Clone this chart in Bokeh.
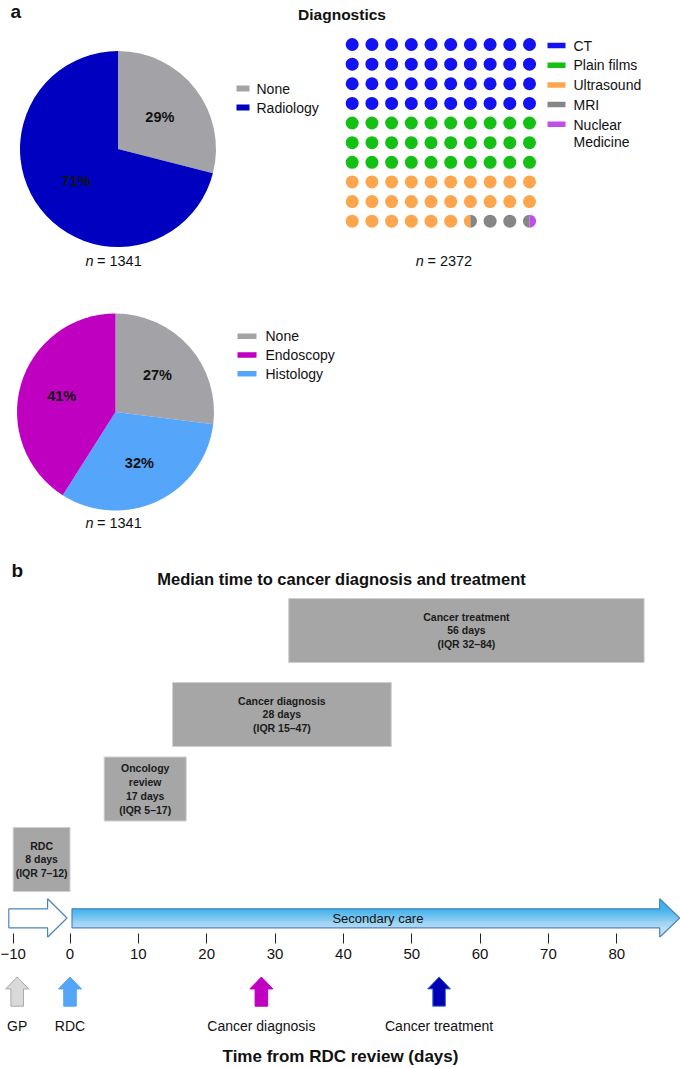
import math
from bokeh.plotting import figure
from bokeh.layouts import column
from bokeh.models import Range1d, FixedTicker
from bokeh.core.properties import value
from bokeh.embed import file_html
from bokeh.resources import INLINE

# ------------------------------------------------------------------ data
PIE1_CATS = ["None", "Radiology"]
PIE1_PCT = [29, 71]
PIE1_N = "1341"

PIE2_CATS = ["None", "Endoscopy", "Histology"]          # legend order
PIE2_PCT = [27, 41, 32]
PIE2_DRAW_ORDER = ["None", "Histology", "Endoscopy"]    # clockwise from top
PIE2_N = "1341"

WAFFLE_CATS = ["CT", "Plain films", "Ultrasound", "MRI", "Nuclear\nMedicine"]
WAFFLE_PCT = [40, 30, 26.5, 3, 0.5]
WAFFLE_N = "2372"

STAGES = ["RDC", "Oncology\nreview", "Cancer diagnosis", "Cancer treatment"]
STAGE_MEDIAN_DAYS = [8, 17, 28, 56]
STAGE_IQR_LOW = [7, 5, 15, 32]
STAGE_IQR_HIGH = [12, 17, 47, 84]
STAGE_BOX_START = [-10, 5, 15, 32]
STAGE_BOX_END = [0, 17, 47, 84]

TICK_DAYS = [-10, 0, 10, 20, 30, 40, 50, 60, 70, 80]
TICK_LABELS = ["\u221210", "0", "10", "20", "30", "40", "50", "60", "70", "80"]

EVENTS = ["GP", "RDC", "Cancer diagnosis", "Cancer treatment"]
EVENT_DAY = [-9.3, 0, 28, 54]

# ------------------------------------------------------------------ styles
FONT = value("Liberation Sans")
TXT = "#111111"
PIE1_COLORS = {"None": "#a3a3a7", "Radiology": "#0000c0"}
PIE2_COLORS = {"None": "#a3a3a7", "Endoscopy": "#c000c0", "Histology": "#55a5fa"}
WAFFLE_COLORS = ["#1212f2", "#14c014", "#fda64d", "#868686", "#c04ee8"]
BOX_FILL, BOX_LINE = "#a6a6a6", "#cfcfcf"
EVENT_FILL = ["#d9d9d9", "#55a5f8", "#c000c0", "#0000b4"]
EVENT_LINE = ["#a9a9a9", "#55a5f8", "#c000c0", "#3a6fd8"]
ARROW_LINE = "#4a84c0"
GRAD_TOP, GRAD_BOT = (64, 178, 236), (188, 221, 244)

W = 680


def base_fig(height, x_range, y_range, **kw):
    p = figure(width=W, height=height, x_range=x_range, y_range=y_range,
               toolbar_location=None, output_backend="svg",
               outline_line_color=None, background_fill_color="white",
               border_fill_color="white", **kw)
    p.grid.visible = False
    return p


# ================================================================== panel a
A_TOP, A_H = 0, 540


def ya(py):
    return A_TOP + A_H - py


pa = base_fig(A_H, Range1d(0, W), Range1d(0, A_H),
              x_axis_location=None, y_axis_location=None, min_border=0)

pa.text(x=[10], y=[ya(11)], text=["a"], text_font=FONT, text_font_size="19px",
        text_font_style="bold", text_align="left", text_baseline="alphabetic", text_color=TXT)
pa.text(x=[341.5], y=[ya(13.5)], text=["Diagnostics"], text_font=FONT, text_font_size="15.5px",
        text_font_style="bold", text_align="center", text_baseline="middle", text_color=TXT)


def draw_pie(p, cx, cy, r, cats, pcts, colors, label_r):
    total = float(sum(pcts))
    starts, ends, fills, lx, ly, lt = [], [], [], [], [], []
    cum = 0.0
    for c, v in zip(cats, pcts):
        a0 = math.pi / 2 - 2 * math.pi * cum / total
        a1 = math.pi / 2 - 2 * math.pi * (cum + v) / total
        cum += v
        starts.append(a0)
        ends.append(a1)
        fills.append(colors[c])
        m = (a0 + a1) / 2
        lx.append(cx + label_r * math.cos(m))
        ly.append(cy + label_r * math.sin(m))
        lt.append(f"{v}%")
    n = len(cats)
    p.wedge(x=[cx] * n, y=[cy] * n, radius=r, radius_units="screen",
            start_angle=starts, end_angle=ends, direction="clock",
            fill_color=fills, line_color=None)
    p.text(x=lx, y=ly, text=lt, text_font=FONT, text_font_size="14.5px",
           text_font_style="bold", text_align="center", text_baseline="middle", text_color=TXT)


def draw_legend(p, rect_cx, text_x, ys_page, labels, colors, w, h, line_px=18):
    n = len(labels)
    p.rect(x=[rect_cx] * n, y=[ya(v) for v in ys_page], width=w, height=h,
           width_units="screen", height_units="screen", fill_color=colors, line_color=None)
    ty = [ya(v + lab.count("\n") * line_px / 2) for v, lab in zip(ys_page, labels)]
    p.text(x=[text_x] * n, y=ty, text=labels, text_font=FONT, text_font_size="14px",
           text_align="left", text_baseline="middle", text_line_height=1.06,
           text_color=TXT)


def n_label(p, cx, py, n):
    p.text(x=[cx - 20.8], y=[ya(py)], text=["n"], text_font=FONT, text_font_size="14.5px",
           text_font_style="italic", text_align="right", text_baseline="middle", text_color=TXT)
    p.text(x=[cx - 17.3], y=[ya(py)], text=[f"= {n}"], text_font=FONT, text_font_size="14.5px",
           text_align="left", text_baseline="middle", text_color=TXT)


# pie 1
draw_pie(pa, 117.5, ya(148.5), 98, PIE1_CATS, PIE1_PCT, PIE1_COLORS, 53)
draw_legend(pa, 242.5, 256, [88, 107], PIE1_CATS, [PIE1_COLORS[c] for c in PIE1_CATS], 13, 6)
n_label(pa, 113.8, 260, PIE1_N)

# pie 2
pie2_pct = [PIE2_PCT[PIE2_CATS.index(c)] for c in PIE2_DRAW_ORDER]
draw_pie(pa, 115, ya(411.5), 98.5, PIE2_DRAW_ORDER, pie2_pct, PIE2_COLORS, 56)
draw_legend(pa, 246.5, 265, [335.7, 354.4, 373.2], PIE2_CATS,
            [PIE2_COLORS[c] for c in PIE2_CATS], 19, 5.5)
n_label(pa, 113.8, 522.7, PIE2_N)

# waffle
W_X0, W_DX, W_Y0, W_DY, W_R = 351.7, 19.7, 44.0, 19.63, 6.5
full_x, full_y, full_c = [], [], []
part_x, part_y, part_s, part_e, part_c = [], [], [], [], []
n_dots = 100
for i in range(n_dots):
    row, col = divmod(i, 10)
    x = W_X0 + col * W_DX
    y = ya(W_Y0 + row * W_DY)
    parts = []
    lo = 0.0
    for k, v in enumerate(WAFFLE_PCT):
        hi = lo + v
        ov = min(hi, i + 1) - max(lo, i)
        if ov > 1e-9:
            parts.append((k, ov))
        lo = hi
    if len(parts) == 1:
        full_x.append(x)
        full_y.append(y)
        full_c.append(WAFFLE_COLORS[parts[0][0]])
    else:
        a = math.pi / 2
        for k, ov in parts:
            part_x.append(x)
            part_y.append(y)
            part_s.append(a)
            a += ov * 2 * math.pi
            part_e.append(a)
            part_c.append(WAFFLE_COLORS[k])

pa.scatter(x=full_x, y=full_y, size=2 * W_R, marker="circle", fill_color=full_c, line_color=None)
pa.wedge(x=part_x, y=part_y, radius=W_R, radius_units="screen", start_angle=part_s,
         end_angle=part_e, direction="anticlock", fill_color=part_c, line_color=None)
draw_legend(pa, 556, 573, [45 + 19.7 * k for k in range(len(WAFFLE_CATS))], WAFFLE_CATS,
            WAFFLE_COLORS, 18, 5.5)
n_label(pa, 444.2, 260, WAFFLE_N)

# ================================================================== panel b
PX0, PX_PER_DAY = 69.5, 6.835          # page x of day 0, px per day
X_START = -PX0 / PX_PER_DAY
X_END = (W - PX0) / PX_PER_DAY
S = W / (X_END - X_START)              # px per day
NEG = 0.831                            # compressed scale before RDC review


def tx(d):
    return d if d >= 0 else d * NEG


def px_to_x(page_x):
    return X_START + page_x / S


xr = Range1d(X_START, X_END)

B1_TOP, B1_H, B1_FRAME = 540, 427, 397


def yb1(py):
    return B1_TOP + B1_FRAME - py


pb1 = base_fig(B1_H, xr, Range1d(0, B1_FRAME), y_axis_location=None,
               min_border_left=0, min_border_right=0, min_border_top=0,
               min_border_bottom=B1_H - B1_FRAME)

ax = pb1.xaxis[0]
tick_pos = [tx(t) for t in TICK_DAYS]
ax.ticker = FixedTicker(ticks=tick_pos)
ax.major_label_overrides = {p_: lab for p_, lab in zip(tick_pos, TICK_LABELS)}
ax.axis_line_color = None
ax.major_tick_line_color = "#222222"
ax.major_tick_in = 4
ax.major_tick_out = 6
ax.minor_tick_line_color = None
ax.major_label_standoff = 5
ax.major_label_text_font = "Liberation Sans"
ax.major_label_text_font_size = "15px"
ax.major_label_text_color = TXT

pb1.text(x=[px_to_x(11)], y=[yb1(570)], text=["b"], text_font=FONT, text_font_size="19px",
         text_font_style="bold", text_align="left", text_baseline="alphabetic", text_color=TXT)
pb1.text(x=[px_to_x(341)], y=[yb1(578)], text=["Median time to cancer diagnosis and treatment"],
         text_font=FONT, text_font_size="16.5px", text_font_style="bold", text_align="center",
         text_baseline="middle", text_color=TXT)

# stage boxes
ROW_CENTER_PAGE = [859, 788.5, 714, 630]
BOX_H = 64
bl = [tx(v) for v in STAGE_BOX_START]
br = [tx(v) for v in STAGE_BOX_END]
bc = [yb1(v) for v in ROW_CENTER_PAGE]
pb1.quad(left=bl, right=br, bottom=[c - BOX_H / 2 for c in bc], top=[c + BOX_H / 2 for c in bc],
         fill_color=BOX_FILL, line_color=BOX_LINE, line_width=1)
box_txt = [f"{s}\n{m} days\n(IQR {lo}\u2013{hi})" for s, m, lo, hi in
           zip(STAGES, STAGE_MEDIAN_DAYS, STAGE_IQR_LOW, STAGE_IQR_HIGH)]
pb1.text(x=[(a + b) / 2 for a, b in zip(bl, br)], y=bc, text=box_txt, text_font=FONT,
         text_font_size="10.5px", text_font_style="bold", text_align="center",
         text_baseline="middle", text_line_height=1.16, text_color="#1a1a1a")

# care-pathway arrows
BODY_TOP, BODY_BOT, HEAD_TOP, HEAD_BOT = 908.3, 927.3, 898.3, 936.7
MID = (HEAD_TOP + HEAD_BOT) / 2


def block_arrow(x0, x_tip, head_px):
    xh = x_tip - head_px / S
    xs = [x0, xh, xh, x_tip, xh, xh, x0]
    ys = [yb1(BODY_BOT), yb1(BODY_BOT), yb1(HEAD_BOT), yb1(MID), yb1(HEAD_TOP),
          yb1(BODY_TOP), yb1(BODY_TOP)]
    return xs, ys


def clip_band(xs, ys, ylo, yhi):
    pts = list(zip(xs, ys))

    def clip(pts, inside, yc):
        out = []
        for i in range(len(pts)):
            cur, prev = pts[i], pts[i - 1]
            if inside(cur):
                if not inside(prev):
                    t = (yc - prev[1]) / (cur[1] - prev[1])
                    out.append((prev[0] + t * (cur[0] - prev[0]), yc))
                out.append(cur)
            elif inside(prev):
                t = (yc - prev[1]) / (cur[1] - prev[1])
                out.append((prev[0] + t * (cur[0] - prev[0]), yc))
        return out

    pts = clip(pts, lambda q: q[1] >= ylo, ylo)
    if pts:
        pts = clip(pts, lambda q: q[1] <= yhi, yhi)
    return [q[0] for q in pts], [q[1] for q in pts]


def lerp_hex(c0, c1, t):
    return "#%02x%02x%02x" % tuple(int(round(a + (b - a) * t)) for a, b in zip(c0, c1))


# primary care (white) arrow
px_, py_ = block_arrow(px_to_x(8.3), tx(0) - 3 / S, 19.4)
pb1.patch(px_, py_, fill_color="white", line_color=ARROW_LINE, line_width=1.2)

# secondary care arrow with vertical gradient
sx0, stip = tx(0) + 2 / S, X_END - 0.8 / S
sx, sy = block_arrow(sx0, stip, 20)
ylo_all, yhi_all = yb1(HEAD_BOT), yb1(HEAD_TOP)
nstripes = 40
step = (yhi_all - ylo_all) / nstripes
body_lo, body_hi = yb1(BODY_BOT), yb1(BODY_TOP)
gx, gy, gc = [], [], []
for k in range(nstripes):
    a = ylo_all + k * step
    b = min(a + step + 0.6, yhi_all)
    cx_, cy_ = clip_band(sx, sy, a, b)
    if len(cx_) < 3:
        continue
    t = min(max(((a + b) / 2 - body_lo) / (body_hi - body_lo), 0), 1)
    gx.append(cx_)
    gy.append(cy_)
    gc.append(lerp_hex(GRAD_BOT, GRAD_TOP, t))
pb1.patches(xs=gx, ys=gy, fill_color=gc, line_color=None)
pb1.patch(sx, sy, fill_color=None, line_color=ARROW_LINE, line_width=1.2)
pb1.text(x=[(sx0 + stip) / 2 + 0.3], y=[yb1(918.3)], text=["Secondary care"], text_font=FONT,
         text_font_size="13px", text_align="center", text_baseline="middle", text_color=TXT)

# ------------------------------------------------------------------ events row
B2_TOP, B2_H, B2_FRAME = 967, 101, 79


def yb2(py):
    return B2_TOP + B2_FRAME - py


pb2 = base_fig(B2_H, xr, Range1d(0, B2_FRAME), y_axis_location=None,
               min_border_left=0, min_border_right=0, min_border_top=0,
               min_border_bottom=B2_H - B2_FRAME)

TIP, BASE, BOT = 976.7, 989.0, 1006.7
HEAD_HW, SHAFT_HW = 11.5, 6.3
ex, ey = [], []
for d in EVENT_DAY:
    c = tx(d)
    hw, sw = HEAD_HW / S, SHAFT_HW / S
    ex.append([c - sw, c + sw, c + sw, c + hw, c, c - hw, c - sw])
    ey.append([yb2(BOT), yb2(BOT), yb2(BASE), yb2(BASE), yb2(TIP), yb2(BASE), yb2(BASE)])
pb2.patches(xs=ex, ys=ey, fill_color=EVENT_FILL, line_color=EVENT_LINE, line_width=1)
pb2.text(x=[tx(d) for d in EVENT_DAY], y=[yb2(1026.7)] * len(EVENTS), text=EVENTS,
         text_font=FONT, text_font_size="14px", text_align="center", text_baseline="middle",
         text_color=TXT)

ax2 = pb2.xaxis[0]
ax2.ticker = FixedTicker(ticks=[])
ax2.axis_line_color = None
ax2.major_tick_line_color = None
ax2.minor_tick_line_color = None
ax2.major_tick_out = 0
ax2.major_label_standoff = 0
ax2.axis_label = "Time from RDC review (days)"
ax2.axis_label_standoff = 2
ax2.axis_label_text_font = "Liberation Sans"
ax2.axis_label_text_font_size = "17px"
ax2.axis_label_text_font_style = "bold"
ax2.axis_label_text_color = TXT

layout = column(pa, pb1, pb2)
open("out.html", "w").write(file_html(layout, INLINE, title="Diagnostics and time to cancer diagnosis"))
